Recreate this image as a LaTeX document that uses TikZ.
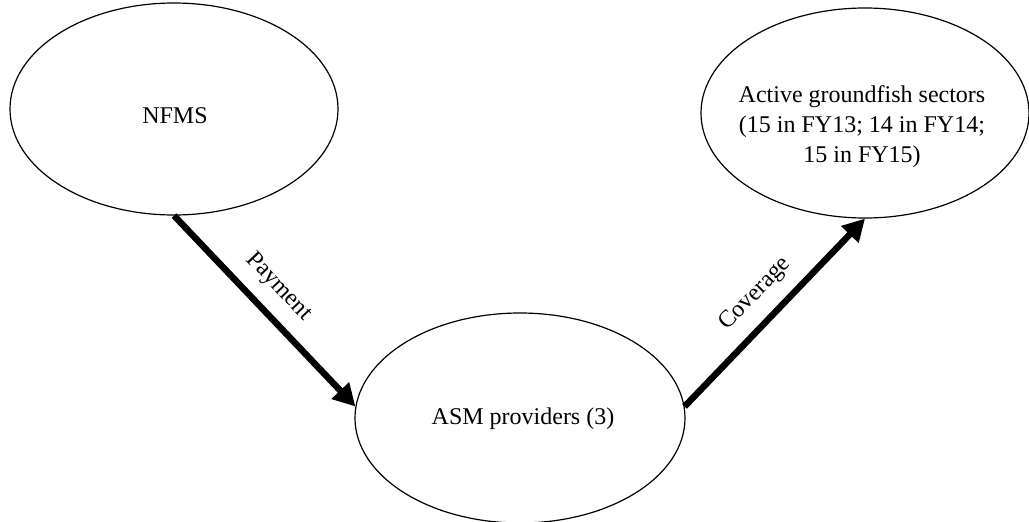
\documentclass[tikz,border=0pt]{standalone}
\usepackage{fontspec}
\setmainfont{Liberation Serif}
\usetikzlibrary{shapes.geometric,arrows.meta}
\begin{document}
\begin{tikzpicture}[x=1pt,y=-1pt,
  party/.style={draw=black,line width=1.2pt,ellipse,inner sep=0pt},
  lbl/.style={font=\fontsize{24}{30}\selectfont,align=center,inner sep=0pt},
  flow/.style={line width=6.5pt,-{Triangle[length=22pt,width=23pt]}},
  flowlbl/.style={font=\fontsize{24}{30}\selectfont,sloped,inner sep=0pt}]
  \useasboundingbox (0,0) rectangle (1029,522);

  % the three parties
  \node[party,minimum width=328pt,minimum height=212pt] (nfms) at (174,109) {};
  \node[party,minimum width=328pt,minimum height=210pt] (act) at (865,113) {};
  \node[party,minimum width=330pt,minimum height=210pt] (asm) at (520,418) {};

  % their names
  \node[lbl] (nfmsT) at (175,116) {NFMS};
  \node[lbl] (actT) at (862,127) {Active groundfish sectors\\(15 in FY13; 14 in FY14;\\15 in FY15)};
  \node[lbl] (asmT) at (523,419) {ASM providers (3)};

  % money and service flows
  \draw[flow] (nfms.south) -- (asm.176)
    node[flowlbl,pos=0.47,above=13pt] (pay) {Payment};
  \draw[flow] (asm.4) -- (act.south)
    node[flowlbl,pos=0.5,above=13pt] (cov) {Coverage};
\end{tikzpicture}
\end{document}
